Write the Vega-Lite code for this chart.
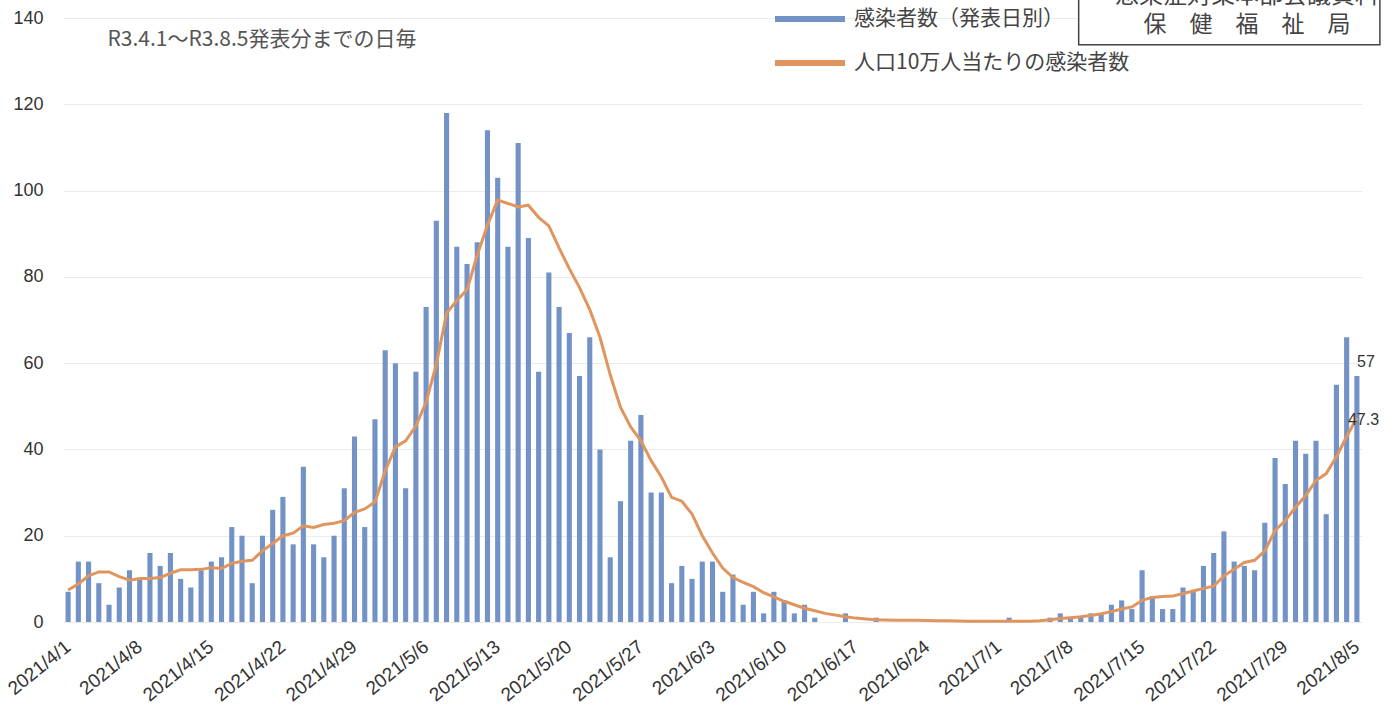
{
  "$schema": "https://vega.github.io/schema/vega-lite/v6.json",
  "width": 1299,
  "height": 604,
  "autosize": {"type": "none"},
  "padding": {"left": 63, "top": 18, "right": 38, "bottom": 100},
  "background": "white",
  "config": {"view": {"stroke": null}, "font": "Liberation Sans"},
  "datasets": {
    "d": [
      {"date": "2021/4/1", "cases": 7, "rate": 7.4},
      {"date": "2021/4/2", "cases": 14, "rate": 8.8},
      {"date": "2021/4/3", "cases": 14, "rate": 10.7},
      {"date": "2021/4/4", "cases": 9, "rate": 11.6},
      {"date": "2021/4/5", "cases": 4, "rate": 11.6},
      {"date": "2021/4/6", "cases": 8, "rate": 10.5},
      {"date": "2021/4/7", "cases": 12, "rate": 9.7},
      {"date": "2021/4/8", "cases": 10, "rate": 10.1},
      {"date": "2021/4/9", "cases": 16, "rate": 10.1},
      {"date": "2021/4/10", "cases": 13, "rate": 10.3},
      {"date": "2021/4/11", "cases": 16, "rate": 11.3},
      {"date": "2021/4/12", "cases": 10, "rate": 12.1},
      {"date": "2021/4/13", "cases": 8, "rate": 12.1},
      {"date": "2021/4/14", "cases": 12, "rate": 12.2},
      {"date": "2021/4/15", "cases": 14, "rate": 12.6},
      {"date": "2021/4/16", "cases": 15, "rate": 12.4},
      {"date": "2021/4/17", "cases": 22, "rate": 13.6},
      {"date": "2021/4/18", "cases": 20, "rate": 14.1},
      {"date": "2021/4/19", "cases": 9, "rate": 14.3},
      {"date": "2021/4/20", "cases": 20, "rate": 16.5},
      {"date": "2021/4/21", "cases": 26, "rate": 18.2},
      {"date": "2021/4/22", "cases": 29, "rate": 20.0},
      {"date": "2021/4/23", "cases": 18, "rate": 20.6},
      {"date": "2021/4/24", "cases": 36, "rate": 22.3},
      {"date": "2021/4/25", "cases": 18, "rate": 21.9},
      {"date": "2021/4/26", "cases": 15, "rate": 22.6},
      {"date": "2021/4/27", "cases": 20, "rate": 22.9},
      {"date": "2021/4/28", "cases": 31, "rate": 23.5},
      {"date": "2021/4/29", "cases": 43, "rate": 25.4},
      {"date": "2021/4/30", "cases": 22, "rate": 26.2},
      {"date": "2021/5/1", "cases": 47, "rate": 27.8},
      {"date": "2021/5/2", "cases": 63, "rate": 35.0},
      {"date": "2021/5/3", "cases": 60, "rate": 40.6},
      {"date": "2021/5/4", "cases": 31, "rate": 42.0},
      {"date": "2021/5/5", "cases": 58, "rate": 45.4},
      {"date": "2021/5/6", "cases": 73, "rate": 51.0},
      {"date": "2021/5/7", "cases": 93, "rate": 59.7},
      {"date": "2021/5/8", "cases": 118, "rate": 71.6},
      {"date": "2021/5/9", "cases": 87, "rate": 74.5},
      {"date": "2021/5/10", "cases": 83, "rate": 77.0},
      {"date": "2021/5/11", "cases": 88, "rate": 85.0},
      {"date": "2021/5/12", "cases": 114, "rate": 92.0},
      {"date": "2021/5/13", "cases": 103, "rate": 97.8},
      {"date": "2021/5/14", "cases": 87, "rate": 97.0},
      {"date": "2021/5/15", "cases": 111, "rate": 96.2},
      {"date": "2021/5/16", "cases": 89, "rate": 96.6},
      {"date": "2021/5/17", "cases": 58, "rate": 93.8},
      {"date": "2021/5/18", "cases": 81, "rate": 91.8},
      {"date": "2021/5/19", "cases": 73, "rate": 86.7},
      {"date": "2021/5/20", "cases": 67, "rate": 81.9},
      {"date": "2021/5/21", "cases": 57, "rate": 77.5},
      {"date": "2021/5/22", "cases": 66, "rate": 72.4},
      {"date": "2021/5/23", "cases": 40, "rate": 66.0},
      {"date": "2021/5/24", "cases": 15, "rate": 57.3},
      {"date": "2021/5/25", "cases": 28, "rate": 49.8},
      {"date": "2021/5/26", "cases": 42, "rate": 45.2},
      {"date": "2021/5/27", "cases": 48, "rate": 42.0},
      {"date": "2021/5/28", "cases": 30, "rate": 37.4},
      {"date": "2021/5/29", "cases": 30, "rate": 33.6},
      {"date": "2021/5/30", "cases": 9, "rate": 28.9},
      {"date": "2021/5/31", "cases": 13, "rate": 28.0},
      {"date": "2021/6/1", "cases": 10, "rate": 25.0},
      {"date": "2021/6/2", "cases": 14, "rate": 20.0},
      {"date": "2021/6/3", "cases": 14, "rate": 16.0},
      {"date": "2021/6/4", "cases": 7, "rate": 12.5},
      {"date": "2021/6/5", "cases": 11, "rate": 10.3},
      {"date": "2021/6/6", "cases": 4, "rate": 9.2},
      {"date": "2021/6/7", "cases": 7, "rate": 8.2},
      {"date": "2021/6/8", "cases": 2, "rate": 6.8},
      {"date": "2021/6/9", "cases": 7, "rate": 5.8},
      {"date": "2021/6/10", "cases": 5, "rate": 4.8},
      {"date": "2021/6/11", "cases": 2, "rate": 4.0},
      {"date": "2021/6/12", "cases": 4, "rate": 3.2},
      {"date": "2021/6/13", "cases": 1, "rate": 2.6},
      {"date": "2021/6/14", "cases": 0, "rate": 2.0},
      {"date": "2021/6/15", "cases": 0, "rate": 1.6},
      {"date": "2021/6/16", "cases": 2, "rate": 1.2},
      {"date": "2021/6/17", "cases": 0, "rate": 0.9},
      {"date": "2021/6/18", "cases": 0, "rate": 0.7},
      {"date": "2021/6/19", "cases": 1, "rate": 0.5},
      {"date": "2021/6/20", "cases": 0, "rate": 0.45},
      {"date": "2021/6/21", "cases": 0, "rate": 0.4},
      {"date": "2021/6/22", "cases": 0, "rate": 0.4},
      {"date": "2021/6/23", "cases": 0, "rate": 0.4},
      {"date": "2021/6/24", "cases": 0, "rate": 0.35},
      {"date": "2021/6/25", "cases": 0, "rate": 0.3},
      {"date": "2021/6/26", "cases": 0, "rate": 0.3},
      {"date": "2021/6/27", "cases": 0, "rate": 0.25},
      {"date": "2021/6/28", "cases": 0, "rate": 0.2},
      {"date": "2021/6/29", "cases": 0, "rate": 0.2},
      {"date": "2021/6/30", "cases": 0, "rate": 0.15},
      {"date": "2021/7/1", "cases": 0, "rate": 0.15},
      {"date": "2021/7/2", "cases": 1, "rate": 0.2},
      {"date": "2021/7/3", "cases": 0, "rate": 0.2},
      {"date": "2021/7/4", "cases": 0, "rate": 0.2},
      {"date": "2021/7/5", "cases": 0, "rate": 0.3},
      {"date": "2021/7/6", "cases": 1, "rate": 0.5},
      {"date": "2021/7/7", "cases": 2, "rate": 0.8},
      {"date": "2021/7/8", "cases": 1, "rate": 1.0},
      {"date": "2021/7/9", "cases": 1, "rate": 1.2},
      {"date": "2021/7/10", "cases": 2, "rate": 1.5},
      {"date": "2021/7/11", "cases": 2, "rate": 1.9},
      {"date": "2021/7/12", "cases": 4, "rate": 2.4},
      {"date": "2021/7/13", "cases": 5, "rate": 3.0},
      {"date": "2021/7/14", "cases": 3, "rate": 3.5},
      {"date": "2021/7/15", "cases": 12, "rate": 5.0},
      {"date": "2021/7/16", "cases": 6, "rate": 5.7},
      {"date": "2021/7/17", "cases": 3, "rate": 5.9},
      {"date": "2021/7/18", "cases": 3, "rate": 6.0},
      {"date": "2021/7/19", "cases": 8, "rate": 6.6},
      {"date": "2021/7/20", "cases": 7, "rate": 7.2},
      {"date": "2021/7/21", "cases": 13, "rate": 7.8},
      {"date": "2021/7/22", "cases": 16, "rate": 8.3},
      {"date": "2021/7/23", "cases": 21, "rate": 10.7},
      {"date": "2021/7/24", "cases": 14, "rate": 12.2},
      {"date": "2021/7/25", "cases": 13, "rate": 13.8},
      {"date": "2021/7/26", "cases": 12, "rate": 14.3},
      {"date": "2021/7/27", "cases": 23, "rate": 16.5},
      {"date": "2021/7/28", "cases": 38, "rate": 21.2},
      {"date": "2021/7/29", "cases": 32, "rate": 23.5},
      {"date": "2021/7/30", "cases": 42, "rate": 26.6},
      {"date": "2021/7/31", "cases": 39, "rate": 29.3},
      {"date": "2021/8/1", "cases": 42, "rate": 32.8},
      {"date": "2021/8/2", "cases": 25, "rate": 34.4},
      {"date": "2021/8/3", "cases": 55, "rate": 38.3},
      {"date": "2021/8/4", "cases": 66, "rate": 43.0},
      {"date": "2021/8/5", "cases": 57, "rate": 47.3}
    ]
  },
  "data": {"name": "d"},
  "encoding": {
    "x": {
      "field": "date", "type": "ordinal", "sort": null,
      "scale": {"paddingInner": 0.5, "paddingOuter": 0.25},
      "axis": {
        "title": null,
        "values": ["2021/4/1", "2021/4/8", "2021/4/15", "2021/4/22", "2021/4/29", "2021/5/6", "2021/5/13", "2021/5/20", "2021/5/27", "2021/6/3", "2021/6/10", "2021/6/17", "2021/6/24", "2021/7/1", "2021/7/8", "2021/7/15", "2021/7/22", "2021/7/29", "2021/8/5"],
        "labelAngle": -39, "labelAlign": "right", "labelBaseline": "middle",
        "labelPadding": 22, "ticks": false, "domain": false, "grid": false,
        "labelFontSize": 19, "labelColor": "#333333", "labelFont": "Liberation Sans"
      }
    }
  },
  "layer": [
    {
      "mark": {"type": "bar", "tooltip": false},
      "encoding": {
        "y": {
          "field": "cases", "type": "quantitative",
          "scale": {"domain": [0, 140], "nice": false, "zero": true},
          "axis": {"title": null, "values": [0, 20, 40, 60, 80, 100, 120, 140], "ticks": false, "domain": false, "grid": true, "gridColor": "#ebebeb", "gridWidth": 1, "labelFontSize": 18, "labelPadding": 20, "labelColor": "#333333", "labelFont": "Liberation Sans"}
        },
        "color": {
          "datum": "感染者数（発表日別）",
          "scale": {"domain": ["感染者数（発表日別）", "人口10万人当たりの感染者数"], "range": ["#7393c6", "#e0955f"]},
          "legend": {
            "title": null, "orient": "none", "legendX": 709, "legendY": -10,
            "symbolType": "stroke", "symbolSize": 4900, "symbolStrokeWidth": 6,
            "labelFontSize": 21, "labelFont": "Noto Sans CJK JP", "labelColor": "#444444",
            "labelLimit": 500, "clipHeight": 22, "rowPadding": 22, "labelOffset": 6
          }
        }
      }
    },
    {
      "mark": {"type": "line", "strokeWidth": 3},
      "encoding": {
        "y": {"field": "rate", "type": "quantitative"},
        "color": {"datum": "人口10万人当たりの感染者数"}
      }
    },
    {
      "transform": [{"filter": "datum.date == '2021/8/5'"}],
      "mark": {"type": "text", "fontSize": 16, "color": "#333333", "dx": 9, "dy": -14},
      "encoding": {
        "y": {"field": "cases", "type": "quantitative"},
        "text": {"field": "cases", "type": "quantitative"}
      }
    },
    {
      "transform": [{"filter": "datum.date == '2021/8/5'"}],
      "mark": {"type": "text", "fontSize": 16, "color": "#333333", "align": "left", "dx": -9, "dy": 2},
      "encoding": {
        "y": {"field": "rate", "type": "quantitative"},
        "text": {"field": "rate", "type": "quantitative", "format": ".1f"}
      }
    },
    {
      "data": {"values": [{}]},
      "mark": {"type": "text", "font": "Noto Sans CJK JP", "fontSize": 21, "color": "#555555", "align": "left", "baseline": "middle"},
      "encoding": {
        "x": {"datum": "2021/4/5", "bandPosition": 0.2},
        "y": {"datum": 134.9},
        "text": {"value": "R3.4.1～R3.8.5発表分までの日毎"}
      }
    },
    {
      "data": {"values": [{}]},
      "mark": {"type": "rect", "fill": "white", "stroke": "#444444", "strokeWidth": 1.5},
      "encoding": {
        "x": {"datum": "2021/7/9", "bandPosition": 0.1},
        "x2": {"datum": "2021/8/5", "bandPosition": 5},
        "y": {"datum": 133.8},
        "y2": {"datum": 150}
      }
    },
    {
      "data": {"values": [{}]},
      "mark": {"type": "text", "font": "Noto Sans CJK JP", "fontSize": 23, "color": "#444444", "baseline": "middle"},
      "encoding": {
        "x": {"datum": "2021/7/25", "bandPosition": 1},
        "y": {"datum": 138.4},
        "text": {"value": "保　健　福　祉　局"}
      }
    },
    {
      "data": {"values": [{}]},
      "mark": {"type": "text", "font": "Noto Sans CJK JP", "fontSize": 24, "color": "#444444", "baseline": "middle"},
      "encoding": {
        "x": {"datum": "2021/7/25", "bandPosition": 1},
        "y": {"datum": 145.1},
        "text": {"value": "感染症対策本部会議資料"}
      }
    }
  ]
}
